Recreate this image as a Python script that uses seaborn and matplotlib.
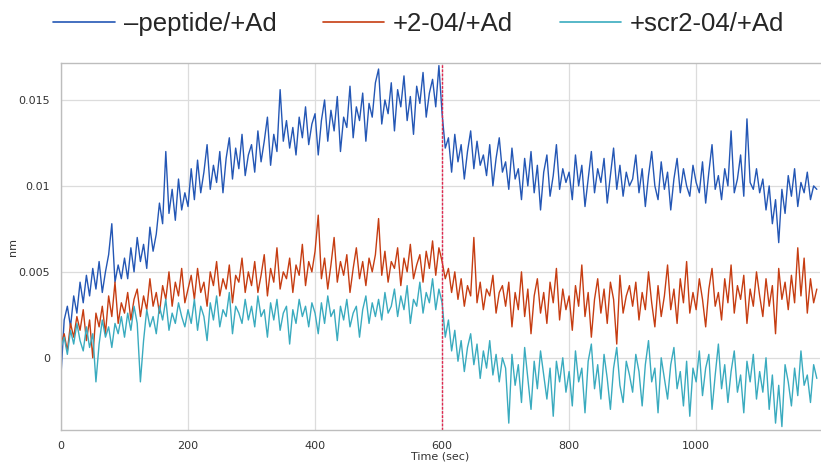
import numpy as np
import pandas as pd
import seaborn as sns
import matplotlib
matplotlib.use("Agg")
import matplotlib.pyplot as plt
from matplotlib.ticker import MultipleLocator, FuncFormatter

# ---------------- data (response in units of 1e-4 nm, sampled every 5 s) ----------------
time_sec = list(range(0, 1195, 5))
unit = 1e-4

peptide_free = [
    -10, 22, 30, 18, 36, 26, 44, 32, 48, 36, 52, 40, 56, 38, 50, 60, 78, 44, 54, 46,
    58, 46, 64, 50, 70, 56, 66, 52, 76, 62, 72, 90, 78, 120, 84, 98, 80, 104, 86, 96,
    88, 110, 92, 115, 96, 108, 124, 98, 112, 102, 120, 96, 116, 128, 104, 122, 110, 130, 106, 118,
    124, 108, 132, 114, 126, 140, 112, 130, 120, 156, 126, 138, 122, 134, 118, 140, 128, 146, 124, 136,
    142, 118, 138, 150, 126, 144, 132, 152, 120, 140, 134, 158, 128, 146, 138, 154, 126, 148, 140, 160,
    168, 136, 150, 142, 160, 132, 156, 146, 164, 138, 152, 130, 158, 148, 166, 140, 154, 162, 146, 170,
    142, 122, 128, 108, 130, 114, 124, 104, 120, 132, 110, 126, 112, 118, 106, 124, 100, 116, 128, 108,
    114, 98, 122, 104, 110, 92, 116, 100, 120, 96, 112, 86, 108, 118, 94, 106, 124, 98, 110, 102,
    108, 92, 118, 100, 112, 88, 104, 120, 96, 110, 102, 116, 90, 106, 122, 98, 112, 94, 108, 100,
    104, 118, 96, 110, 88, 106, 120, 100, 92, 114, 98, 108, 86, 104, 116, 96, 110, 100, 94, 112,
    102, 96, 114, 90, 108, 124, 98, 106, 92, 110, 100, 132, 96, 104, 118, 94, 139, 102, 98, 110,
    96, 104, 86, 100, 78, 92, 67, 98, 84, 106, 94, 110, 88, 102, 96, 108, 92, 100, 98,
]

peptide_2_04 = [
    8, 14, 4, 20, 12, 24, 16, 28, 10, 22, 0, 26, 18, 30, 14, 36, 24, 44, 20, 32,
    26, 38, 22, 34, 40, 24, 36, 28, 46, 30, 38, 26, 42, 34, 50, 30, 44, 36, 52, 32,
    40, 48, 34, 52, 38, 44, 30, 50, 42, 56, 36, 46, 40, 54, 32, 48, 44, 58, 38, 50,
    42, 56, 38, 48, 60, 36, 52, 44, 64, 40, 50, 46, 58, 38, 54, 48, 66, 42, 56, 50,
    62, 83, 46, 58, 40, 54, 70, 44, 56, 48, 60, 38, 52, 64, 46, 56, 42, 58, 50, 60,
    81, 48, 62, 44, 56, 52, 64, 42, 58, 50, 66, 46, 54, 60, 44, 62, 52, 68, 48, 64,
    56, 46, 52, 38, 50, 34, 46, 30, 42, 36, 70, 32, 44, 28, 40, 36, 48, 26, 38, 42,
    30, 44, 18, 38, 28, 50, 24, 40, 14, 36, 46, 26, 38, 20, 44, 32, 52, 22, 40, 28,
    36, 16, 42, 30, 54, 24, 38, 12, 34, 46, 26, 40, 20, 44, 34, 8, 48, 26, 36, 42,
    30, 44, 22, 38, 28, 50, 32, 18, 42, 24, 36, 54, 28, 40, 20, 46, 32, 56, 26, 38,
    28, 46, 34, 18, 40, 52, 30, 38, 22, 46, 32, 54, 26, 42, 34, 48, 20, 40, 30, 50,
    36, 24, 46, 30, 42, 14, 52, 34, 44, 28, 48, 32, 64, 36, 58, 26, 46, 32, 40,
]

peptide_scr2_04 = [
    6, 12, 2, 16, 8, 20, 10, 4, 18, 6, 14, -14, 8, 22, 12, 18, 6, 20, 14, 24,
    12, 26, 16, 30, 20, -14, 10, 28, 18, 24, 14, 30, 22, 34, 16, 26, 20, 32, 24, 18,
    28, 20, 34, 16, 30, 24, 10, 32, 22, 36, 18, 28, 24, 38, 14, 30, 26, 20, 34, 22,
    30, 18, 36, 24, 28, 12, 32, 22, 34, 16, 26, 30, 8, 28, 20, 34, 24, 30, 18, 32,
    26, 14, 32, 20, 36, 24, 28, 10, 30, 22, 34, 18, 26, 30, 12, 28, 36, 20, 32, 24,
    34, 22, 38, 26, 30, 40, 24, 36, 28, 42, 20, 34, 30, 44, 26, 38, 32, 46, 28, 40,
    32, 12, 22, 4, 16, -2, 10, -8, 6, 14, -4, 8, -12, 4, -6, 10, -10, 2, -14, 0,
    -6, -38, 2, -16, -4, -26, 6, -12, -30, -2, -18, 4, -10, -24, -6, -34, -2, -14, 0, -20,
    -8, -28, 4, -14, -6, -32, -2, 8, -18, -4, -24, 2, -12, -30, -6, 6, -16, -26, -2, -10,
    -20, 2, -8, -28, -4, 10, -14, -6, -32, 0, -12, -24, -4, 6, -18, -8, -28, -2, -34, -6,
    -14, 4, -22, -6, 2, -30, -10, 8, -18, -4, -26, -8, 4, -20, -10, -32, -2, -14, 2, -24,
    -8, -20, 0, -30, -10, -38, -16, -40, -4, -14, -28, -6, -22, 4, -16, -10, -26, -4, -12,
]

series_names = ["\u2013peptide/+Ad", "+2-04/+Ad", "+scr2-04/+Ad"]
series_colors = ["#2457b5", "#c63d12", "#3aabbf"]
x_ticks = [0, 200, 400, 600, 800, 1000]
y_ticks = [0, 0.005, 0.01, 0.015]
switch_time = 600

# ---------------- build long-form table ----------------
frames = []
for name, vals in zip(series_names, [peptide_free, peptide_2_04, peptide_scr2_04]):
    frames.append(pd.DataFrame({"Time (sec)": time_sec,
                                "nm": np.array(vals) * unit,
                                "series": name}))
df = pd.concat(frames, ignore_index=True)

# ---------------- plot ----------------
sns.set_style("white")
plt.rcParams["font.family"] = ["DejaVu Sans"]

fig = plt.figure(figsize=(8.21, 4.73), dpi=100)
ax = fig.add_axes([61 / 821, 1 - 430 / 473, 759 / 821, (430 - 63) / 473])

sns.lineplot(data=df, x="Time (sec)", y="nm", hue="series",
             hue_order=series_names, palette=series_colors,
             estimator=None, linewidth=1.0, ax=ax, legend=False)

ax.axvline(switch_time, color="#e0284f", linestyle=(0, (2, 1)), linewidth=1.0)

ax.set_xlim(0, 1195)
ax.set_ylim(-0.0042, 0.01715)
ax.set_xticks(x_ticks)
ax.set_yticks(y_ticks)
ax.yaxis.set_major_formatter(FuncFormatter(lambda v, p: f"{v:g}"))
ax.xaxis.set_minor_locator(MultipleLocator(50))
ax.yaxis.set_minor_locator(MultipleLocator(0.001))
ax.grid(True, which="major", color="#dcdcdc", linewidth=0.9)
ax.set_axisbelow(True)
ax.tick_params(axis="both", which="both", direction="in", colors="#444444",
               labelsize=8, labelcolor="#333333")
ax.tick_params(axis="both", which="major", length=5, width=0.8, pad=8)
ax.tick_params(axis="both", which="minor", length=3, width=0.6)
for s in ["left", "bottom", "top"]:
    ax.spines[s].set_color("#bdbdbd")
    ax.spines[s].set_linewidth(1.0)
ax.spines["right"].set_visible(False)

ax.set_xlabel("Time (sec)", fontsize=8, color="#333333", labelpad=0)
ax.set_ylabel("nm", fontsize=8, color="#333333")
ax.yaxis.set_label_coords(-43 / 759, 0.5)

handles = [plt.Line2D([], [], color=c, linewidth=1.2) for c in series_colors]
fig.legend(handles, series_names, loc="center", bbox_to_anchor=(0.51, 0.949),
           ncol=3, frameon=False, prop={"family": "Liberation Sans", "size": 18.5},
           handlelength=2.4, handletextpad=0.35, columnspacing=1.8)

fig.savefig("out.png", dpi=100)
